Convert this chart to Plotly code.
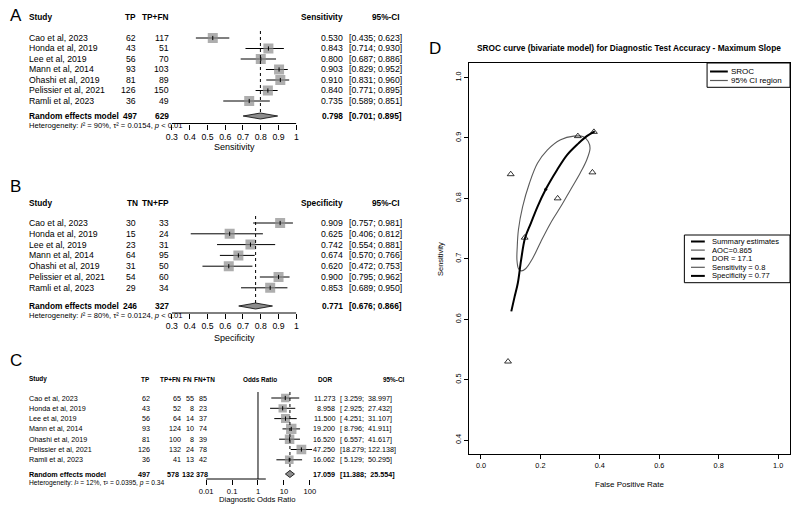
import math
import plotly.graph_objects as go

W, H = 794, 507
FONT = "Liberation Sans, Arial, sans-serif"
GRAY = "#8c8c8c"
CIGRAY = "#5a5a5a"

# ---------------- data ----------------
studies = ["Cao et al, 2023", "Honda et al, 2019", "Lee et al, 2019", "Mann et al, 2014",
           "Ohashi et al, 2019", "Pelissier et al, 2021", "Ramli et al, 2023"]

# Panel A: sensitivity
sens_tp = [62, 43, 56, 93, 81, 126, 36]
sens_tpfn = [117, 51, 70, 103, 89, 150, 49]
sens = [0.530, 0.843, 0.800, 0.903, 0.910, 0.840, 0.735]
sens_lo = [0.435, 0.714, 0.687, 0.829, 0.831, 0.771, 0.589]
sens_hi = [0.623, 0.930, 0.886, 0.952, 0.960, 0.895, 0.851]
sens_pool = [0.798, 0.701, 0.895]
sens_het = ["90%", "0.0154", "&lt; 0.01"]

# Panel B: specificity
spec_tn = [30, 15, 23, 64, 31, 54, 29]
spec_tnfp = [33, 24, 31, 95, 50, 60, 34]
spec = [0.909, 0.625, 0.742, 0.674, 0.620, 0.900, 0.853]
spec_lo = [0.757, 0.406, 0.554, 0.570, 0.472, 0.795, 0.689]
spec_hi = [0.981, 0.812, 0.881, 0.766, 0.753, 0.962, 0.950]
spec_pool = [0.771, 0.676, 0.866]
spec_het = ["80%", "0.0124", "&lt; 0.01"]

# Panel C: diagnostic odds ratio
dor_tp = [62, 43, 56, 93, 81, 126, 36]
dor_tpfn = [65, 52, 64, 124, 100, 132, 41]
dor_fn = [55, 8, 14, 10, 8, 24, 13]
dor_fntn = [85, 23, 37, 74, 39, 78, 42]
dor = [11.273, 8.958, 11.500, 19.200, 16.520, 47.250, 16.062]
dor_lo = [3.259, 2.925, 4.251, 8.796, 6.557, 18.279, 5.129]
dor_hi = [38.997, 27.432, 31.107, 41.911, 41.617, 122.138, 50.295]
dor_weight = [11.0, 10.5, 13.5, 20.0, 16.0, 17.0, 12.0]
dor_pool = [17.059, 11.388, 25.554]
dor_het = ["12%", "0.0395", "= 0.34"]

unit_ticks = [0.3, 0.4, 0.5, 0.6, 0.7, 0.8, 0.9, 1.0]
unit_ticklabels = ["0.3", "0.4", "0.5", "0.6", "0.7", "0.8", "0.9", "1"]
dor_ticks = [0.01, 0.1, 1, 10, 100]
dor_ticklabels = ["0.01", "0.1", "1", "10", "100"]

# Panel D: SROC
sroc_fpr = [0.102, 0.113, 0.124, 0.135, 0.148, 0.168, 0.190, 0.218, 0.256, 0.290, 0.328, 0.356, 0.383]
sroc_sens = [0.613, 0.637, 0.660, 0.698, 0.734, 0.759, 0.786, 0.815, 0.847, 0.872, 0.891, 0.903, 0.911]
ci_fpr = [0.135, 0.126, 0.121, 0.122, 0.126, 0.140, 0.163, 0.190, 0.223, 0.268, 0.312, 0.345, 0.361,
          0.367, 0.356, 0.334, 0.301, 0.268, 0.234, 0.201, 0.174, 0.151, 0.135]
ci_sens = [0.680, 0.684, 0.698, 0.720, 0.748, 0.786, 0.825, 0.858, 0.880, 0.897, 0.903, 0.902, 0.894,
           0.883, 0.864, 0.842, 0.814, 0.786, 0.759, 0.728, 0.701, 0.684, 0.680]
summary_point = [0.218, 0.815]
sroc_ticks_x = [0.0, 0.2, 0.4, 0.6, 0.8, 1.0]
sroc_ticks_y = [0.4, 0.5, 0.6, 0.7, 0.8, 0.9, 1.0]
legend1_items = ["SROC", "95% CI region"]
legend2_items = ["Summary estimates", "AOC=0.865", "DOR = 17.1", "Sensitivity = 0.8", "Specificity = 0.77"]

# ---------------- helpers ----------------
fig = go.Figure()
ann, shapes, layout = [], [], {}


def px(x):
    return x / W


def py(y):
    return 1 - y / H


def text(x, y, s, yref="paper", anchor="left", size=8.7, bold=False, color="black", angle=0):
    if bold:
        s = "<b>" + s + "</b>"
    ann.append(dict(x=px(x), y=(py(y) if yref == "paper" else y), xref="paper", yref=yref,
                    text=s, showarrow=False, xanchor=anchor, yanchor="middle", textangle=angle,
                    borderpad=0, font=dict(family=FONT, size=size, color=color)))


def forest(k, lay, est, lo, hi, pool, sizes, ticks, ticklabels, log=False):
    xa = "x" if k == 1 else "x%d" % k
    ya = "y" if k == 1 else "y%d" % k
    s, p0 = lay["s"], lay["p0"]

    def r(p):
        return (p - p0) / s

    rows = list(range(len(est)))
    xs, ys = [], []
    for i in rows:
        xs += [lo[i], hi[i], None]
        ys += [i, i, None]
    common = dict(xaxis=xa, yaxis=ya, hoverinfo="skip", showlegend=False)
    if log:
        fig.add_trace(go.Scatter(x=[1, 1], y=[r(lay["ref_top"]), r(lay["axis"])], mode="lines",
                                 line=dict(color="black", width=1), **common))
    fig.add_trace(go.Scatter(x=xs, y=ys, mode="lines", line=dict(color="black", width=1), **common))
    fig.add_trace(go.Scatter(x=est, y=rows, mode="markers",
                             marker=dict(symbol="square", size=sizes, color=GRAY, line=dict(width=0)),
                             **common))
    fig.add_trace(go.Scatter(x=est, y=rows, mode="markers",
                             marker=dict(symbol="line-ns", size=3, line=dict(color="black", width=1)),
                             **common))
    rr = r(lay["random"])
    dh = lay["dh"] / s
    fig.add_trace(go.Scatter(x=[pool[0], pool[0]], y=[r(lay["ref_top"]), rr - dh], mode="lines",
                             line=dict(color="black", width=1, dash="dot"), **common))
    fig.add_trace(go.Scatter(x=[pool[1], pool[0], pool[2], pool[0], pool[1]],
                             y=[rr, rr - dh, rr, rr + dh, rr], mode="lines", fill="toself",
                             fillcolor=GRAY, line=dict(color="black", width=0.8), **common))
    xkey = "xaxis" if k == 1 else "xaxis%d" % k
    ykey = "yaxis" if k == 1 else "yaxis%d" % k
    if log:
        xr = [math.log10(ticks[0]), math.log10(ticks[-1]) + lay["extra"]]
        lx0, lx1 = math.log10(ticks[0]), math.log10(ticks[-1])
    else:
        xr = [ticks[0], ticks[-1]]
        lx0, lx1 = ticks[0], ticks[-1]
    layout[xkey] = dict(domain=[px(lay["x0"]), px(lay["x1"])], range=xr, anchor=ya,
                        type="log" if log else "linear", tickmode="array", tickvals=ticks,
                        ticktext=ticklabels, ticks="outside", ticklen=5, tickwidth=1, tickcolor="black",
                        showline=False, showgrid=False, zeroline=False,
                        tickfont=dict(family=FONT, size=lay["tick_font"], color="black"))
    layout[ykey] = dict(domain=[py(lay["axis"]), py(lay["top"])], range=[r(lay["axis"]), r(lay["top"])],
                        visible=False, anchor=xa)
    shapes.append(dict(type="line", xref=xa, yref=ya + " domain", x0=lx0, x1=lx1, y0=0, y1=0,
                       line=dict(color="black", width=1)))
    return ya, r


def het_text(vals):
    return "Heterogeneity: <i>I</i>² = %s, τ² = %s, <i>p</i> %s" % tuple(vals)


# ---------------- panel A ----------------
LA = dict(p0=38, s=10.5, header=17, random=116, het=125, axis=123.5, top=8, ref_top=31, dh=3,
          x0=167, x1=293, tick_font=8.7)
ya, r = forest(1, LA, sens, sens_lo, sens_hi, sens_pool, [10] * 7, unit_ticks, unit_ticklabels)
text(9, 15, "A", size=17, anchor="center")
text(21, r(LA["header"]), "Study", ya, bold=True, size=8.3)
text(132, r(LA["header"]), "TP", ya, "right", bold=True, size=8.3)
text(165, r(LA["header"]), "TP+FN", ya, "right", bold=True, size=8.3)
text(341, r(LA["header"]), "Sensitivity", ya, "right", bold=True, size=8.3)
text(399, r(LA["header"]), "95%-CI", ya, "right", bold=True, size=8.3)
for i, name in enumerate(studies):
    text(21, i, name, ya)
    text(132, i, str(sens_tp[i]), ya, "right")
    text(165, i, str(sens_tpfn[i]), ya, "right")
    text(341, i, "%.3f" % sens[i], ya, "right")
    text(345, i, "[%.3f; %.3f]" % (sens_lo[i], sens_hi[i]), ya)
rr = r(LA["random"])
text(21, rr, "Random effects model", ya, bold=True, size=8.4)
text(133, rr, str(sum(sens_tp)), ya, "right", bold=True, size=8.4)
text(165, rr, str(sum(sens_tpfn)), ya, "right", bold=True, size=8.4)
text(341, rr, "%.3f" % sens_pool[0], ya, "right", bold=True, size=8.4)
text(345, rr, "[%.3f; %.3f]" % (sens_pool[1], sens_pool[2]), ya, bold=True, size=8.4)
text(21, LA["het"], het_text(sens_het), size=7.6)
text(230, 147, "Sensitivity", size=9, anchor="center")

# ---------------- panel B ----------------
LB = dict(p0=223, s=10.8, header=203, random=306, het=315.5, axis=313, top=195, ref_top=216, dh=3,
          x0=167, x1=293, tick_font=8.7)
ya, r = forest(2, LB, spec, spec_lo, spec_hi, spec_pool, [10] * 7, unit_ticks, unit_ticklabels)
text(9, 186, "B", size=17, anchor="center")
text(21, r(LB["header"]), "Study", ya, bold=True, size=8.3)
text(134, r(LB["header"]), "TN", ya, "right", bold=True, size=8.3)
text(165, r(LB["header"]), "TN+FP", ya, "right", bold=True, size=8.3)
text(341, r(LB["header"]), "Specificity", ya, "right", bold=True, size=8.3)
text(399, r(LB["header"]), "95%-CI", ya, "right", bold=True, size=8.3)
for i, name in enumerate(studies):
    text(21, i, name, ya)
    text(132, i, str(spec_tn[i]), ya, "right")
    text(165, i, str(spec_tnfp[i]), ya, "right")
    text(341, i, "%.3f" % spec[i], ya, "right")
    text(345, i, "[%.3f; %.3f]" % (spec_lo[i], spec_hi[i]), ya)
rr = r(LB["random"])
text(21, rr, "Random effects model", ya, bold=True, size=8.4)
text(133, rr, str(sum(spec_tn)), ya, "right", bold=True, size=8.4)
text(165, rr, str(sum(spec_tnfp)), ya, "right", bold=True, size=8.4)
text(341, rr, "%.3f" % spec_pool[0], ya, "right", bold=True, size=8.4)
text(345, rr, "[%.3f; %.3f]" % (spec_pool[1], spec_pool[2]), ya, bold=True, size=8.4)
text(21, LB["het"], het_text(spec_het), size=7.6)
text(230, 338, "Specificity", size=9, anchor="center")

# ---------------- panel C ----------------
LC = dict(p0=398, s=10.3, header=379, random=474, het=483, axis=479, top=372, ref_top=392, dh=3.5,
          x0=201.7, x1=309.85, extra=0.12, tick_font=7.6)
sizes_c = [6 + 0.22 * w for w in dor_weight]
ya, r = forest(3, LC, dor, dor_lo, dor_hi, dor_pool, sizes_c, dor_ticks, dor_ticklabels, log=True)
text(9, 360, "C", size=17, anchor="center")
hs = 6.4
text(21, r(LC["header"]), "Study", ya, bold=True, size=hs)
text(146, r(LC["header"]), "TP", ya, "right", bold=True, size=hs)
text(177, r(LC["header"]), "TP+FN", ya, "right", bold=True, size=hs)
text(188, r(LC["header"]), "FN", ya, "right", bold=True, size=hs)
text(212, r(LC["header"]), "FN+TN", ya, "right", bold=True, size=hs)
text(256, r(LC["header"]), "Odds Ratio", ya, "center", bold=True, size=hs)
text(323, r(LC["header"]), "DOR", ya, "center", bold=True, size=hs)
text(380, r(LC["header"]), "95%-CI", ya, "left", bold=True, size=hs)


def ci_fmt(lo, hi):
    return ("[%6.3f; %7.3f]" % (lo, hi)).replace(" ", "\u00a0")


cs = 7.2
for i, name in enumerate(studies):
    text(21, i, name, ya, size=cs)
    text(146, i, str(dor_tp[i]), ya, "right", size=cs)
    text(177, i, str(dor_tpfn[i]), ya, "right", size=cs)
    text(190, i, str(dor_fn[i]), ya, "right", size=cs)
    text(204, i, str(dor_fntn[i]), ya, "right", size=cs)
    text(333, i, "%.3f" % dor[i], ya, "right", size=cs)
    text(336, i, ci_fmt(dor_lo[i], dor_hi[i]), ya, size=cs)
rr = r(LC["random"])
text(21, rr, "Random effects model", ya, bold=True, size=cs)
text(146, rr, str(sum(dor_tp)), ya, "right", bold=True, size=cs)
text(175, rr, str(sum(dor_tpfn)), ya, "right", bold=True, size=cs)
text(190, rr, str(sum(dor_fn)), ya, "right", bold=True, size=cs)
text(205, rr, str(sum(dor_fntn)), ya, "right", bold=True, size=cs)
text(333, rr, "%.3f" % dor_pool[0], ya, "right", bold=True, size=cs)
text(336, rr, ci_fmt(dor_pool[1], dor_pool[2]), ya, bold=True, size=cs)
text(21, LC["het"], het_text(dor_het), size=6.7)
text(254.2, 499, "Diagnostic Odds Ratio", size=7.7, anchor="center")

# ---------------- panel D ----------------
dcommon = dict(xaxis="x4", yaxis="y4", hoverinfo="skip", showlegend=False)
fig.add_trace(go.Scatter(x=ci_fpr, y=ci_sens, mode="lines", line=dict(color=CIGRAY, width=1.1, shape="spline"),
                         **dcommon))
fig.add_trace(go.Scatter(x=sroc_fpr, y=sroc_sens, mode="lines", line=dict(color="black", width=2, shape="spline"),
                         **dcommon))
fig.add_trace(go.Scatter(x=[1 - v for v in spec], y=sens, mode="markers",
                         marker=dict(symbol="triangle-up-open", size=6, color="black", line=dict(width=0.8)),
                         **dcommon))
fig.add_trace(go.Scatter(x=[summary_point[0]], y=[summary_point[1]], mode="markers",
                         marker=dict(symbol="circle", size=3, color="black"), **dcommon))
axd = dict(showgrid=False, zeroline=False, showline=True, mirror=True, linecolor="black", linewidth=1.3,
           ticks="outside", ticklen=4, tickwidth=1, tickcolor="black",
           tickfont=dict(family=FONT, size=7.3, color="black"))
layout["xaxis4"] = dict(domain=[px(468), px(793)], range=[-0.04, 1.04], anchor="y4", tickmode="array",
                        tickvals=sroc_ticks_x, ticktext=["%.1f" % v for v in sroc_ticks_x], **axd)
layout["yaxis4"] = dict(domain=[py(454), py(63)], range=[0.377, 1.024], anchor="x4", tickmode="array",
                        tickvals=sroc_ticks_y, ticktext=["%.1f" % v for v in sroc_ticks_y], tickangle=-90, **axd)
text(433, 48, "D", size=17, anchor="center")
text(630, 47.5, "SROC curve (bivariate model) for Diagnostic Test Accuracy - Maximum Slope", size=8.3,
     bold=True, anchor="center")
text(630.5, 484, "False Positive Rate", size=8, anchor="center")
text(439, 258.5, "Sensitivity", size=7.5, anchor="center", angle=-90)

# legends drawn as boxes with sample lines
shapes.append(dict(type="rect", xref="paper", yref="paper", x0=px(709), x1=px(793), y0=py(87.3), y1=py(63),
                   line=dict(color="black", width=1), fillcolor="white", layer="above"))
leg1_style = [("black", 2), (CIGRAY, 1.2)]
for j, lab in enumerate(legend1_items):
    yy = 71.5 + 9.0 * j
    shapes.append(dict(type="line", xref="paper", yref="paper", x0=px(712), x1=px(730), y0=py(yy), y1=py(yy),
                       line=dict(color=leg1_style[j][0], width=leg1_style[j][1])))
    text(732, yy, lab, size=8.0)
shapes.append(dict(type="rect", xref="paper", yref="paper", x0=px(686), x1=px(793), y0=py(282.7), y1=py(235),
                   line=dict(color="black", width=1), fillcolor="white", layer="above"))
leg2_style = [("black", 2), (CIGRAY, 1.2), ("black", 2), (CIGRAY, 1.2), ("black", 2)]
for j, lab in enumerate(legend2_items):
    yy = 241.5 + 8.6 * j
    shapes.append(dict(type="line", xref="paper", yref="paper", x0=px(692.7), x1=px(706.7), y0=py(yy), y1=py(yy),
                       line=dict(color=leg2_style[j][0], width=leg2_style[j][1])))
    text(713, yy, lab, size=7.6)

fig.update_layout(width=W, height=H, margin=dict(l=0, r=0, t=0, b=0), paper_bgcolor="white",
                  plot_bgcolor="white", showlegend=False, annotations=ann, shapes=shapes,
                  font=dict(family=FONT, color="black"), **layout)
fig.write_html("out.html", config={"displayModeBar": False},
               post_script="document.body.style.margin='0px';document.body.style.overflow='hidden';")
